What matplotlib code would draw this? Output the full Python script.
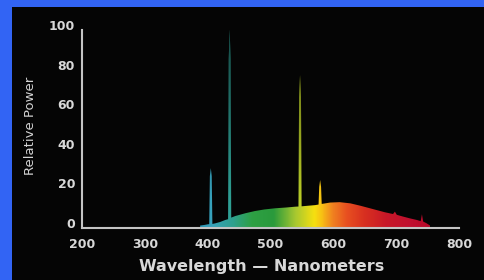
import matplotlib

matplotlib.use("Agg")
import matplotlib.pyplot as plt
import numpy as np
from matplotlib.colors import LinearSegmentedColormap
from matplotlib.patches import Polygon, Rectangle
from matplotlib.transforms import ScaledTranslation

# spectrum outline (continuum + mercury lines)
wavelength = [388, 395, 400,
              402.5, 403.5, 405, 406.5, 407.5,
              412, 420, 428,
              432.5, 433.5, 435, 436.5, 437.5,
              444, 460, 475, 490, 507, 525, 539,
              544.5, 545.5, 547, 548.5, 549.5,
              560, 571,
              576.5, 577.5, 579, 580.5, 581.5,
              595, 610, 627, 643, 656, 669, 682,
              695, 698, 701, 710, 722, 733,
              739, 741, 743, 748, 754]
power = [0, 0.3, 0.6,
         0.7, 25, 29, 25, 0.8,
         1.1, 1.8, 2.8,
         3.2, 84, 99, 84, 4.0,
         4.8, 6.2, 7.3, 8.1, 8.7, 9.1, 9.5,
         9.6, 65, 76, 65, 9.7,
         10.0, 10.3,
         10.6, 19.5, 23, 19.5, 10.9,
         11.6, 11.8, 11.2, 10.0, 8.9, 7.8, 6.7,
         5.8, 7.0, 5.4, 4.6, 3.6, 2.8,
         2.2, 5.7, 2.0, 1.2, 0]

# fill colour by wavelength
stop_nm = [388, 405, 440, 470, 505, 540, 570, 582, 600, 622, 650, 685, 725, 754]
stop_col = ["#2a96b4", "#38a2bc", "#2ea08e", "#2ea044", "#2a9a3c", "#a8c830",
            "#f6e010", "#f8c014", "#f08020", "#e85020", "#d83020", "#c81828",
            "#c01030", "#b80828"]

x_ticks = [200, 300, 400, 500, 600, 700, 800]
y_ticks = [0, 20, 40, 60, 80, 100]

W, H = 484, 280
fig = plt.figure(figsize=(W / 100, H / 100), dpi=100, facecolor="#3264f4")
fig.patches.append(Rectangle((12 / W, 0), 1, 1 - 7 / H, transform=fig.transFigure,
                             facecolor="#050505", edgecolor="none", zorder=-10))

ax = fig.add_axes([82 / W, 1 - 227.5 / H, (459 - 82) / W, 200 / H])
ax.set_facecolor("none")
ax.set_xlim(200, 800)
ax.set_ylim(-1, 100)

# gradient image clipped to the spectrum outline
pos = (np.array(stop_nm) - stop_nm[0]) / (stop_nm[-1] - stop_nm[0])
cmap = LinearSegmentedColormap.from_list("spec", list(zip(pos, stop_col)))
grad = np.linspace(0, 1, 500)[None, :]
im = ax.imshow(grad, cmap=cmap, aspect="auto", origin="lower",
               extent=[stop_nm[0], stop_nm[-1], -1, 100], zorder=2,
               interpolation="bilinear")
verts = [(wavelength[0], -1)] + list(zip(wavelength, power)) + [(wavelength[-1], -1)]
poly = Polygon(verts, closed=True, facecolor="none", edgecolor="none",
               transform=ax.transData)
ax.add_patch(poly)
im.set_clip_path(poly)

# the emission lines fade out towards their tips
fade = np.zeros((200, 1, 4))
fade[:, 0, 3] = np.clip((np.linspace(-1, 100, 200) - 12) / 88, 0, 1) * 0.55
shade = ax.imshow(fade, aspect="auto", origin="lower",
                  extent=[stop_nm[0], stop_nm[-1], -1, 100], zorder=2.5,
                  interpolation="bilinear")
shade.set_clip_path(poly)

for s in ["top", "right"]:
    ax.spines[s].set_visible(False)
for s in ["left", "bottom"]:
    ax.spines[s].set_color("#c4c4c4")
    ax.spines[s].set_linewidth(1.5)
    ax.spines[s].set_zorder(3)
ax.spines["left"].set_bounds(-1, 98.5)

ax.set_xticks(x_ticks)
ax.set_yticks(y_ticks)
ax.tick_params(length=0, colors="#d8d8d8", labelsize=9)
ax.tick_params(axis="x", pad=7.5)
ax.tick_params(axis="y", pad=5)
shift = ScaledTranslation(0, 2.5 / 100, fig.dpi_scale_trans)
for lab in ax.get_yticklabels():
    lab.set_transform(lab.get_transform() + shift)
for lab in ax.get_xticklabels() + ax.get_yticklabels():
    lab.set_fontweight("bold")

ax.set_ylabel("Relative Power", color="#d4d4d4", fontsize=9.5)
ax.yaxis.set_label_coords((30 - 82) / (459 - 82), 0.5 + 2 / 200)
ax.set_xlabel("Wavelength \u2014 Nanometers", color="#d8d8d8", fontsize=11.5,
              fontweight="bold")
ax.xaxis.set_label_coords((262 - 82) / (459 - 82), -(267 - 227.5) / 200)
ax.xaxis.label.set_va("center")
ax.yaxis.label.set_va("center")

fig.savefig("out.png", dpi=100, facecolor=fig.get_facecolor())
